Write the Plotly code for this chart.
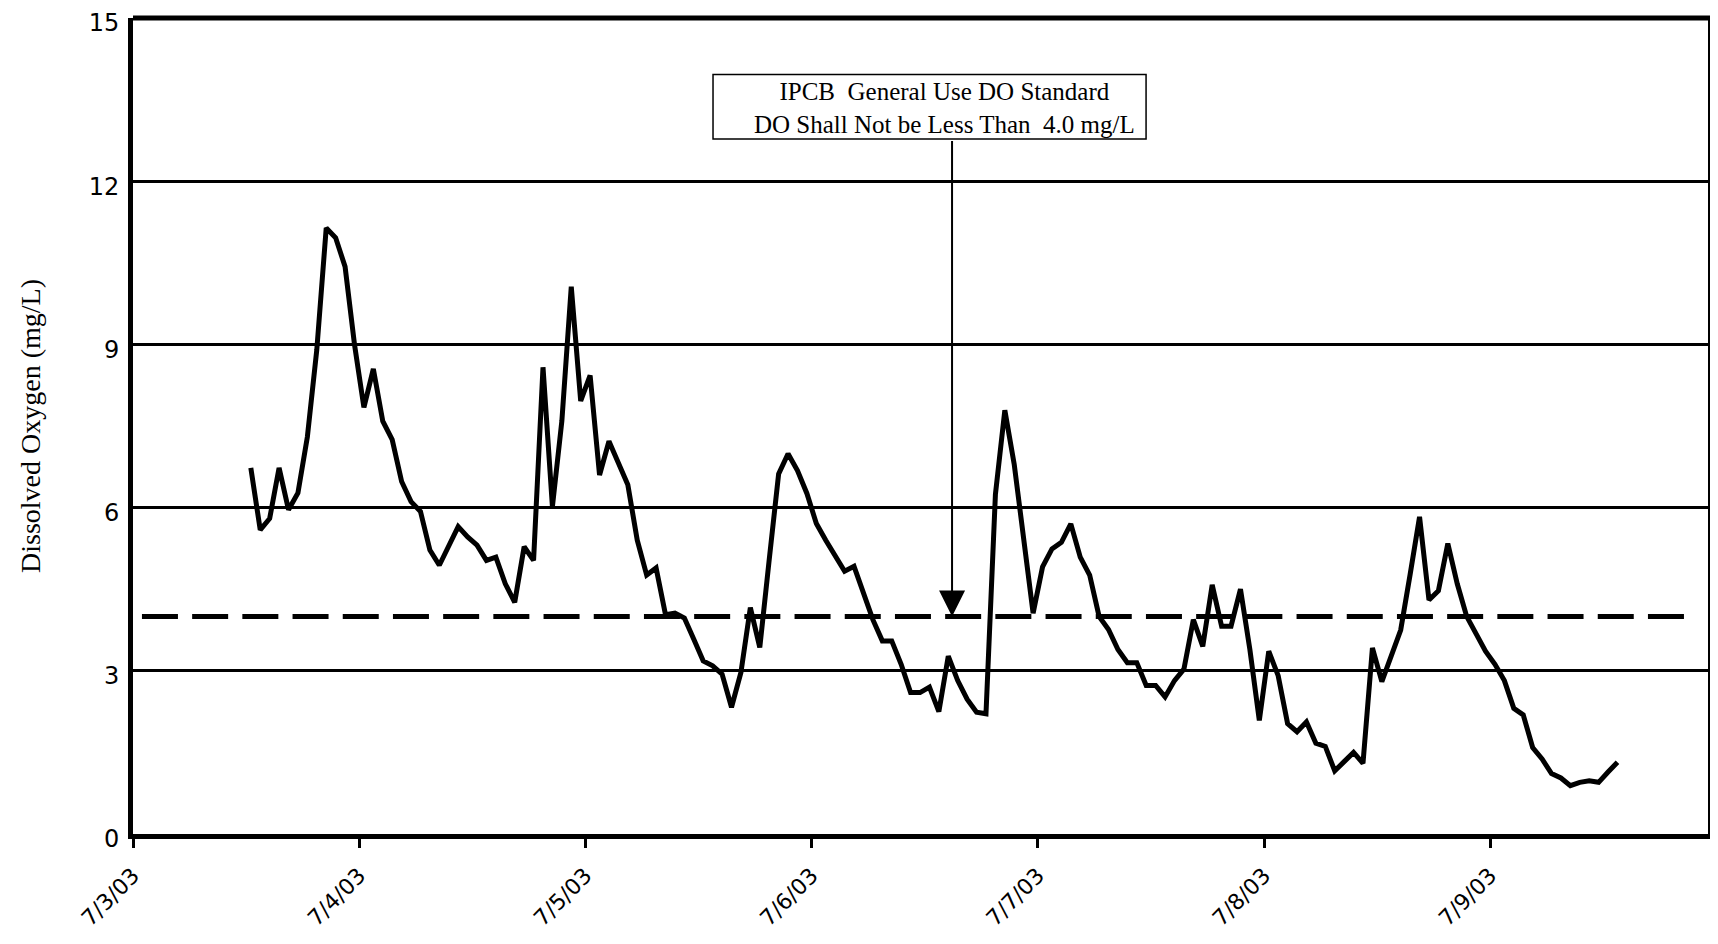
import pandas as pd
import plotly.graph_objects as go

# Hourly dissolved oxygen readings (mg/L), first reading 7/3/03 12:30
FIRST_READING = "2003-07-03 12:30"
DO_MG_L = [
    6.73, 5.59, 5.80, 6.73, 5.96, 6.27, 7.30, 8.90, 11.14, 10.96,
    10.43, 9.00, 7.84, 8.55, 7.59, 7.25, 6.48, 6.11, 5.93, 5.22,
    4.94, 5.28, 5.65, 5.46, 5.31, 5.03, 5.09, 4.60, 4.26, 5.28,
    5.03, 8.58, 6.02, 7.59, 10.06, 7.96, 8.43, 6.60, 7.22, 6.82,
    6.42, 5.40, 4.76, 4.89, 4.03, 4.06, 3.97, 3.58, 3.18, 3.09,
    2.94, 2.33, 2.97, 4.16, 3.43, 5.04, 6.62, 6.99, 6.68, 6.26,
    5.71, 5.40, 5.13, 4.83, 4.92, 4.43, 3.94, 3.55, 3.55, 3.12,
    2.60, 2.60, 2.70, 2.25, 3.27, 2.82, 2.48, 2.24, 2.21, 6.24,
    7.79, 6.79, 5.33, 4.06, 4.91, 5.24, 5.36, 5.70, 5.09, 4.76,
    4.00, 3.76, 3.39, 3.15, 3.15, 2.73, 2.73, 2.52, 2.82, 3.03,
    3.94, 3.45, 4.58, 3.82, 3.82, 4.50, 3.39, 2.09, 3.36, 2.91,
    2.03, 1.88, 2.06, 1.67, 1.61, 1.16, 1.33, 1.50, 1.30, 3.42,
    2.80, 3.27, 3.75, 4.77, 5.83, 4.30, 4.47, 5.34, 4.60, 4.00,
    3.69, 3.36, 3.12, 2.82, 2.31, 2.19, 1.59, 1.38, 1.11, 1.03,
    0.89, 0.95, 0.98, 0.95, 1.14, 1.32,
]

DAY_TICKS = ["2003-07-03", "2003-07-04", "2003-07-05", "2003-07-06",
             "2003-07-07", "2003-07-08", "2003-07-09"]
DAY_LABELS = ["7/3/03", "7/4/03", "7/5/03", "7/6/03", "7/7/03", "7/8/03", "7/9/03"]
Y_TICKS = [0, 3, 6, 9, 12, 15]
X_RANGE = ["2003-07-03 00:00", "2003-07-09 23:19"]

STANDARD_DO = 4.0
STANDARD_START = "2003-07-03 00:57"
STANDARD_END = "2003-07-09 20:40"
ARROW_AT = "2003-07-06 14:54"
NOTE_TEXT = ("IPCB\u00a0 General Use DO Standard<br>"
             "DO Shall Not be Less Than\u00a0 4.0 mg/L")
Y_TITLE = "Dissolved Oxygen (mg/L)"

SERIF = "Liberation Serif, Times New Roman, serif"
SANS = "DejaVu Sans, Verdana, sans-serif"

times = pd.date_range(FIRST_READING, periods=len(DO_MG_L), freq="h")

fig = go.Figure()

fig.add_trace(go.Scatter(
    x=[STANDARD_START, STANDARD_END],
    y=[STANDARD_DO, STANDARD_DO],
    mode="lines",
    line={"color": "black", "width": 5, "dash": "36px,14.2px"},
    showlegend=False,
    hoverinfo="skip",
))

fig.add_trace(go.Scatter(
    x=times,
    y=DO_MG_L,
    mode="lines",
    line={"color": "black", "width": 5},
    showlegend=False,
))

# standard note: box, text (sits a bit right of box centre) and arrow
fig.add_shape(
    type="rect", xref="paper", yref="paper",
    x0=0.3678, x1=0.6424, y0=0.8517, y1=0.9308,
    line={"color": "black", "width": 1.5}, fillcolor="white",
)
fig.add_annotation(
    x=0.5146, y=0.8897, xref="paper", yref="paper",
    text=NOTE_TEXT, showarrow=False,
    font={"family": SERIF, "size": 25, "color": "black"},
    align="center", xanchor="center", yanchor="middle",
)
fig.add_annotation(
    x=ARROW_AT, y=STANDARD_DO, text="", showarrow=True,
    ax=0, ay=-477, arrowhead=2, arrowsize=2.6, arrowwidth=2,
    arrowcolor="black",
)

# y axis title placed left of the tick labels
fig.add_annotation(
    x=0, y=0.5, xref="paper", yref="paper", xshift=-103,
    text=Y_TITLE, textangle=-90, showarrow=False,
    font={"family": SERIF, "size": 28, "color": "black"},
    xanchor="center", yanchor="middle",
)

# top and right frame
fig.add_shape(type="line", xref="paper", yref="paper", x0=0, x1=1, y0=1, y1=1,
              line={"color": "black", "width": 5})
fig.add_shape(type="line", xref="paper", yref="paper", x0=1, x1=1, y0=0, y1=1,
              line={"color": "black", "width": 4})

# page body keeps an 8px margin, so the figure is sized to fit inside it
fig.update_layout(
    width=1702, height=928,
    paper_bgcolor="white", plot_bgcolor="white",
    margin={"l": 125, "r": 0, "t": 10, "b": 102},
    font={"family": SANS, "color": "black"},
)

fig.update_xaxes(
    range=X_RANGE,
    tickvals=DAY_TICKS, ticktext=DAY_LABELS, tickangle=-45,
    tickfont={"family": SANS, "size": 22},
    ticks="outside", ticklen=9, tickwidth=2.5, tickcolor="black",
    ticklabelstandoff=6, ticklabeloverflow="allow", automargin=False,
    showgrid=False, zeroline=False,
    showline=True, linewidth=5, linecolor="black",
)

fig.update_yaxes(
    range=[0, 15], tickvals=Y_TICKS,
    tickfont={"family": SANS, "size": 24},
    ticks="", ticklabelstandoff=4, ticklabelshift=5,
    ticklabeloverflow="allow", automargin=False,
    showgrid=True, gridcolor="black", gridwidth=2.5,
    zeroline=False, showline=True, linewidth=5, linecolor="black",
)

fig.write_html("out.html")
